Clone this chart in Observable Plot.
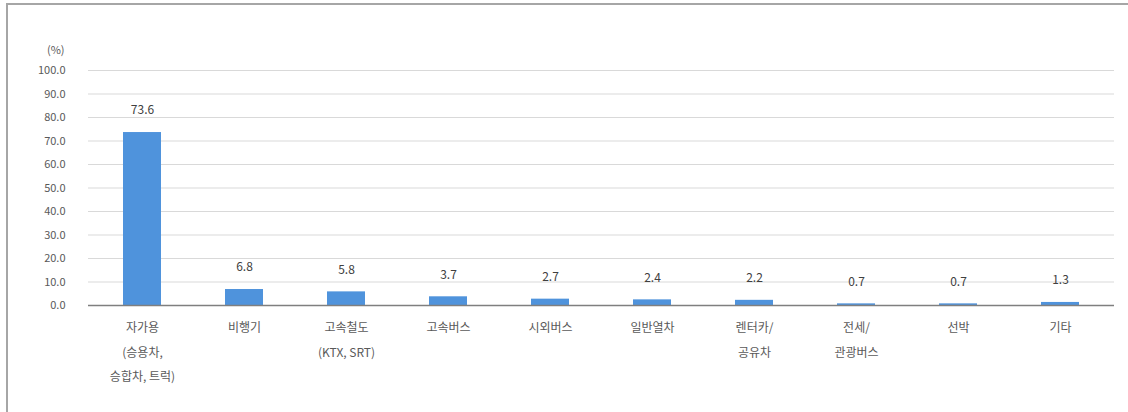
<!DOCTYPE html>
<html>
<head>
<meta charset="utf-8">
<script src="https://cdn.jsdelivr.net/npm/d3@7"></script>
<script src="https://cdn.jsdelivr.net/npm/@observablehq/plot@0.6"></script>
<style>
  html, body { margin: 0; padding: 0; background: #fff; }
  #wrap { position: relative; width: 1128px; height: 412px; overflow: hidden; }
  #frame { position: absolute; left: 6px; top: 3px; width: 1200px; height: 500px;
           border-left: 2px solid #a6a6a6; border-top: 2px solid #a6a6a6; pointer-events: none; }
</style>
</head>
<body>
<div id="wrap"><div id="frame"></div></div>
<script>
const categories = [
  "자가용\n(승용차,\n승합차, 트럭)",
  "비행기",
  "고속철도\n(KTX, SRT)",
  "고속버스",
  "시외버스",
  "일반열차",
  "렌터카/\n공유차",
  "전세/\n관광버스",
  "선박",
  "기타"
];
const values = [73.6, 6.8, 5.8, 3.7, 2.7, 2.4, 2.2, 0.7, 0.7, 1.3];
const yTicks = [0, 10, 20, 30, 40, 50, 60, 70, 80, 90, 100];
const unitLabel = "(%)";

const data = categories.map((c, i) => ({category: c, value: values[i]}));
const font = "'Noto Sans CJK KR', 'Noto Sans', sans-serif";
const textColor = "#595959";

const chart = Plot.plot({
  width: 1128,
  height: 412,
  marginTop: 70,
  marginBottom: 107,
  marginLeft: 88,
  marginRight: 14,
  style: {fontFamily: font, fontSize: "11px", color: textColor, background: "transparent"},
  x: {domain: categories, paddingInner: 0.63, paddingOuter: 0.315, axis: null},
  y: {domain: [0, 100], ticks: yTicks, tickFormat: d => d.toFixed(1), label: null},
  marks: [
    Plot.ruleY(yTicks.slice(1), {stroke: "#d9d9d9", strokeWidth: 1, dx: 0}),
    Plot.axisY({ticks: yTicks, tickFormat: d => d.toFixed(1), tickSize: 0, tickPadding: 23,
                label: null, fontSize: 11, fill: textColor}),
    Plot.text([unitLabel], {frameAnchor: "top-left", dx: -24, dy: -24, textAnchor: "end",
                            fontSize: 11, fill: textColor}),
    Plot.barY(data, {x: "category", y: "value", fill: "#4f93dc"}),
    Plot.ruleY([0], {stroke: "#7f7f7f", strokeWidth: 1.5}),
    Plot.text(data, {x: "category", y: "value", text: d => d.value.toFixed(1), dy: -22,
                     fontSize: 12, fill: "#404040"}),
    Plot.text(data, {x: "category", y: 0, text: "category", lineAnchor: "top", dy: 9,
                     lineHeight: 2.05, fontSize: 12, fill: textColor})
  ]
});
document.getElementById("wrap").prepend(chart);
</script>
</body>
</html>
